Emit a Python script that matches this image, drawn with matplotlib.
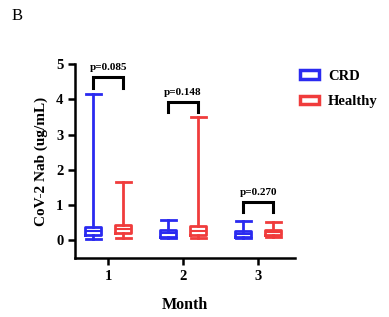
import matplotlib.pyplot as plt
from matplotlib.patches import Patch

plt.rcParams['font.family'] = ['Liberation Serif', 'DejaVu Serif']
plt.rcParams['font.weight'] = 'bold'

months = [1, 2, 3]
groups = ['CRD', 'Healthy']
colors = ['#2a2af0', '#f03c3c']

# whisker low, q1, median, q3, whisker high
crd_stats = [[0.03, 0.14, 0.28, 0.38, 4.15],
             [0.06, 0.10, 0.21, 0.30, 0.59],
             [0.06, 0.11, 0.19, 0.26, 0.56]]
healthy_stats = [[0.07, 0.21, 0.32, 0.45, 1.66],
                 [0.08, 0.15, 0.26, 0.42, 3.50],
                 [0.10, 0.16, 0.23, 0.30, 0.52]]

p_labels = ['p=0.085', 'p=0.148', 'p=0.270']
bracket_top = [4.63, 3.93, 1.10]
bracket_low = [4.32, 3.64, 0.80]

fig = plt.figure(figsize=(3.89, 3.17), dpi=100)
ax = fig.add_axes([0.193, 0.186, 0.565, 0.612])

offset = 0.2
for g, (stats_list, col) in enumerate(zip([crd_stats, healthy_stats], colors)):
    stats = []
    for s in stats_list:
        stats.append(dict(whislo=s[0], q1=s[1], med=s[2], q3=s[3], whishi=s[4], fliers=[]))
    pos = [m + (offset if g else -offset) for m in months]
    ax.bxp(stats, positions=pos, widths=0.22, showfliers=False, manage_ticks=False,
           boxprops=dict(color=col, linewidth=2),
           whiskerprops=dict(color=col, linewidth=2),
           capprops=dict(color=col, linewidth=2),
           medianprops=dict(color=col, linewidth=1.5),
           capwidths=0.2)

for m, lab, top, low in zip(months, p_labels, bracket_top, bracket_low):
    x1, x2 = m - offset, m + offset
    ax.plot([x1, x1, x2, x2], [low, top, top, low], color='black', lw=2.2,
            solid_joinstyle='miter')
    ax.text(m, top + 0.13, lab, ha='center', va='bottom', fontsize=8, fontweight='bold')

ax.set_xlim(0.56, 3.49)
ax.set_ylim(-0.5, 5)
ax.set_xticks(months)
ax.set_yticks([0, 1, 2, 3, 4, 5])
ax.spines['top'].set_visible(False)
ax.spines['right'].set_visible(False)
ax.spines['left'].set_bounds(-0.5, 5)
for sp in ['left', 'bottom']:
    ax.spines[sp].set_linewidth(1.8)
ax.tick_params(width=1.8, length=5, labelsize=10.5)
for t in ax.get_xticklabels() + ax.get_yticklabels():
    t.set_fontweight('bold')

ax.set_ylabel('CoV-2 Nab (ug/mL)', fontsize=11, fontweight='bold', labelpad=6)
ax.set_xlabel('Month', fontsize=11.5, fontweight='bold', labelpad=10)

handles = [Patch(facecolor='white', edgecolor=c, linewidth=2.5) for c in colors]
leg = fig.legend(handles, groups, loc='upper left', bbox_to_anchor=(0.772, 0.78),
                 frameon=False, fontsize=10.5, handlelength=1.3, handleheight=0.55,
                 labelspacing=0.85, borderpad=0, borderaxespad=0, handletextpad=0.6)
for t in leg.get_texts():
    t.set_fontweight('bold')

fig.text(0.03, 0.95, 'B', fontsize=12, fontweight='normal', va='center')

fig.savefig('out.png', dpi=100)
